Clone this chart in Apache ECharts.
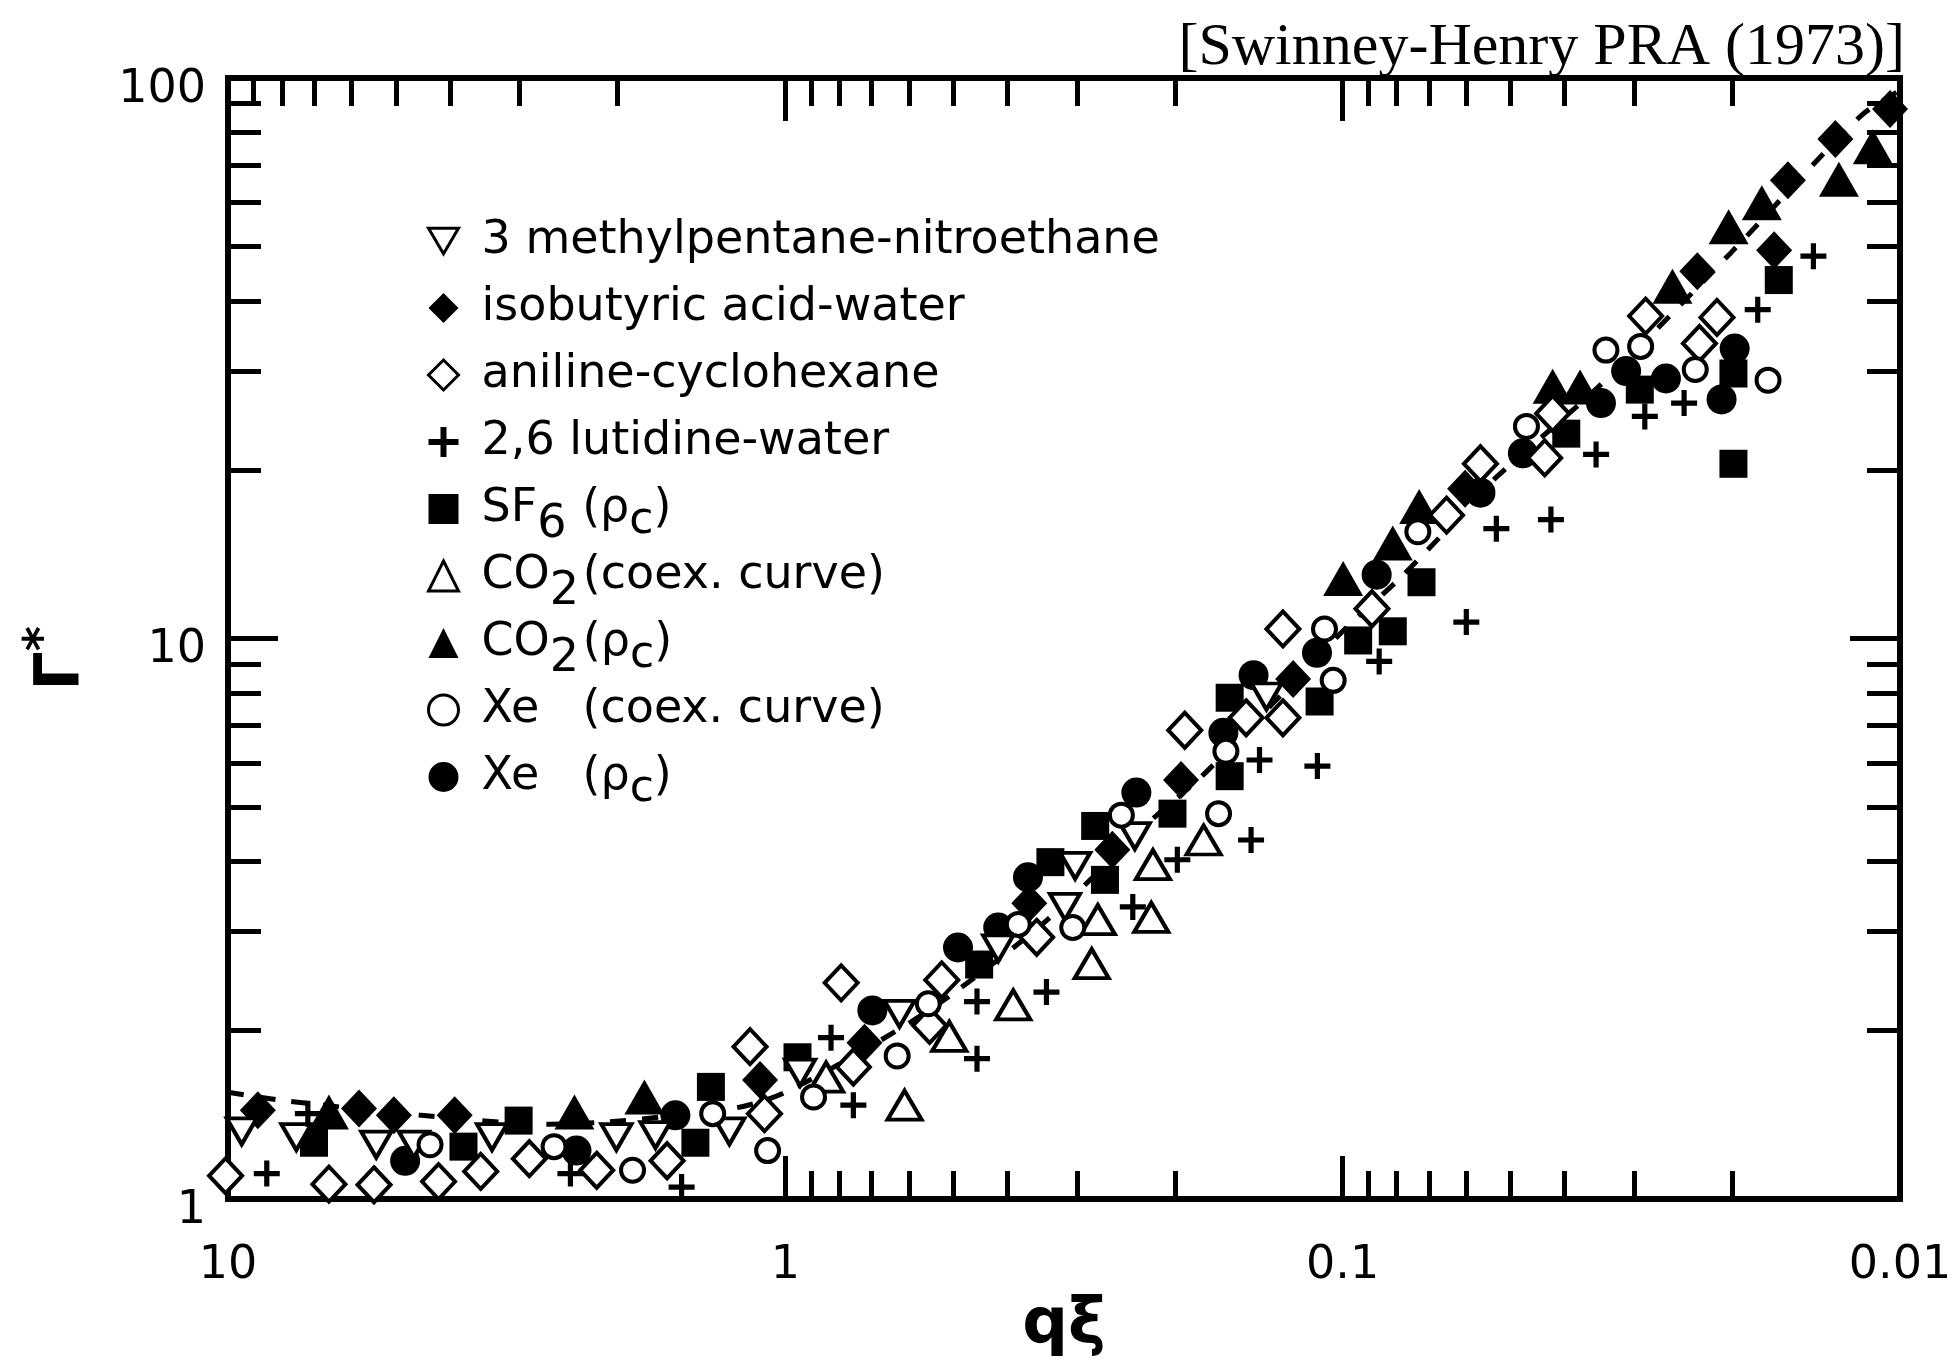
<!DOCTYPE html>
<html><head><meta charset="utf-8">
<script src="https://cdn.jsdelivr.net/npm/echarts@6/dist/echarts.min.js"></script>
<style>html,body{margin:0;padding:0;background:#fff}#c{width:1954px;height:1363px}</style>
</head><body><div id="c"></div>
<script>
// ---- tick labels ----
const xTickLabels = ['10', '1', '0.1', '0.01'];   // 10^1 .. 10^-2
const yTickLabels = ['1', '10', '100'];           // 10^0 .. 10^2
const xMinorTop = [9,8,7,6,5,4,3,2, 0.9,0.8,0.7,0.6,0.5,0.4,0.3,0.2, 0.09,0.08,0.07,0.06,0.05,0.04,0.03,0.02];
const xMinorBottom = [0.9,0.8,0.7,0.6,0.5,0.4,0.3,0.2, 0.09,0.08,0.07,0.06,0.05,0.04,0.03,0.02];
const xMajor = [1, 0.1];
const yMinor = [2,3,4,5,6,7,8,9, 20,30,40,50,60,70,80,90];
const yMajor = [10];

// ---- series names ----
const names = ['3 methylpentane-nitroethane', 'isobutyric acid-water', 'aniline-cyclohexane',
  '2,6 lutidine-water', 'SF6 (ρc)', 'CO2 (coex. curve)', 'CO2 (ρc)', 'Xe (coex. curve)', 'Xe (ρc)'];

// ---- data (qξ , Γ*) ----
const mpneX = [9.45, 7.54, 5.42, 4.64, 3.36, 2.01, 1.71, 1.26, 0.941, 0.624, 0.415, 0.302, 0.315, 0.236, 0.137];
const mpneY = [1.32, 1.29, 1.25, 1.25, 1.29, 1.29, 1.30, 1.32, 1.68, 2.14, 2.80, 3.93, 3.32, 4.44, 7.88];

const ibaX = [8.84, 5.82, 5.04, 3.92, 1.11, 0.721, 0.365, 0.259, 0.195, 0.1227, 0.0603, 0.0231, 0.01682, 0.01589, 0.01306, 0.01042];
const ibaY = [1.44, 1.45, 1.41, 1.41, 1.63, 1.90, 3.37, 4.20, 5.59, 8.47, 18.5, 45.2, 49.3, 65.7, 77.8, 88.0];

const anilX = [10.1, 6.59, 5.47, 4.19, 3.52, 2.88, 2.18, 1.63, 1.09, 1.157, 0.755, 0.794, 0.524, 0.551, 0.354, 0.192, 0.149, 0.128, 0.128, 0.0886, 0.0651, 0.0566, 0.0434, 0.0420, 0.0286, 0.0229, 0.0213];
const anilY = [1.10, 1.063, 1.06, 1.074, 1.12, 1.18, 1.125, 1.17, 1.42, 1.87, 1.72, 2.43, 2.46, 2.04, 2.93, 6.86, 7.22, 7.22, 10.4, 11.3, 16.6, 20.5, 21.0, 25.2, 37.6, 33.6, 37.4];

const lutX = [8.52, 7.19, 2.43, 1.535, 0.828, 0.755, 0.453, 0.453, 0.340, 0.238, 0.198, 0.146, 0.141, 0.111, 0.086, 0.060, 0.053, 0.0423, 0.0351, 0.0287, 0.0244, 0.0180, 0.0143];
const lutY = [1.11, 1.42, 1.11, 1.05, 1.94, 1.47, 2.25, 1.78, 2.34, 3.32, 4.03, 4.37, 6.07, 5.92, 9.10, 10.7, 15.7, 16.3, 21.3, 24.9, 26.3, 38.6, 48.1];

const sf6X = [7.01, 3.78, 3.01, 1.45, 1.36, 0.951, 0.449, 0.3345, 0.267, 0.278, 0.202, 0.1595, 0.1595, 0.110, 0.0938, 0.0813, 0.0722, 0.0397, 0.0293, 0.0199, 0.0199, 0.0165];
const sf6Y = [1.26, 1.24, 1.38, 1.26, 1.585, 1.79, 2.62, 3.99, 3.71, 4.63, 4.87, 5.68, 7.84, 7.72, 9.92, 10.3, 12.6, 23.2, 27.8, 29.7, 20.5, 43.6];

const co2cX = [0.845, 0.611, 0.508, 0.390, 0.282, 0.275, 0.2205, 0.219, 0.1776];
const co2cY = [1.65, 1.47, 1.95, 2.22, 2.63, 3.15, 3.18, 3.95, 4.37];

const co2rX = [6.59, 2.39, 1.79, 0.0998, 0.0813, 0.0729, 0.0420, 0.0375, 0.0256, 0.0203, 0.0177, 0.01287, 0.01119];
const co2rY = [1.43, 1.43, 1.52, 12.8, 14.8, 17.2, 28.2, 28.1, 42.5, 54.3, 59.9, 66.0, 75.4];

const xecX = [4.34, 2.60, 1.88, 1.35, 1.076, 0.890, 0.630, 0.554, 0.382, 0.305, 0.2495, 0.167, 0.162, 0.104, 0.1078, 0.0733, 0.0468, 0.0337, 0.0292, 0.0233, 0.01725];
const xecY = [1.25, 1.24, 1.125, 1.42, 1.22, 1.52, 1.80, 2.23, 3.09, 3.05, 4.84, 4.87, 6.29, 8.42, 10.4, 15.5, 23.9, 32.7, 33.2, 30.2, 28.9];

const xerX = [4.81, 2.37, 1.575, 0.698, 0.490, 0.415, 0.367, 0.2345, 0.1637, 0.1445, 0.1112, 0.0869, 0.0566, 0.0475, 0.0344, 0.0310, 0.0263, 0.0198, 0.0209];
const xerY = [1.17, 1.22, 1.41, 2.17, 2.81, 3.05, 3.75, 5.31, 6.79, 8.60, 9.43, 13.0, 18.2, 21.4, 26.3, 30.0, 29.1, 32.9, 26.7];

// dashed theoretical curve
const curveX = [10, 8, 4.5, 2.65, 1.25, 1.0, 0.64, 0.49, 0.335, 0.22, 0.176, 0.1, 0.079, 0.06, 0.053, 0.034, 0.0201, 0.0118, 0.01];
const curveY = [1.55, 1.50, 1.41, 1.36, 1.45, 1.55, 1.98, 2.36, 3.18, 4.75, 5.77, 10.3, 12.8, 17.0, 19.4, 28.7, 48.8, 85.3, 95];

const zip = (a, b) => a.map((v, i) => [v, b[i]]);
const PLUS = 'path://M8,0h4v8h8v4h-8v8h-4v-8h-8v-4h8z';
const DOWN_TRI = 'path://M0,0L20,0L10,17Z';
const FONT = 'DejaVu Sans';

function sc(name, xs, ys, symbol, size, filled) {
  return {
    type: 'scatter', name, data: zip(xs, ys), symbol, symbolSize: size,
    symbolKeepAspect: false, clip: false, z: 3,
    xAxisIndex: 0, yAxisIndex: 0, emphasis: { disabled: true },
    itemStyle: filled ? { color: '#000', borderWidth: 0, opacity: 1 }
                      : { color: '#fff', borderColor: '#000', borderWidth: 4, opacity: 1 }
  };
}

const series = [
  { type: 'line', name: 'theory', data: zip(curveX, curveY), smooth: 0.3, symbol: 'none', z: 1,
    xAxisIndex: 0, yAxisIndex: 0, silent: true,
    lineStyle: { color: '#000', width: 5, type: [16, 16] } },
  sc(names[1], ibaX, ibaY, 'diamond', [36, 38], true),
  sc(names[4], sf6X, sf6Y, 'rect', 28, true),
  sc(names[6], co2rX, co2rY, 'triangle', [40, 35], true),
  sc(names[8], xerX, xerY, 'circle', 30, true),
  sc(names[0], mpneX, mpneY, DOWN_TRI, [30, 26], false),
  sc(names[2], anilX, anilY, 'diamond', [33, 35], false),
  sc(names[5], co2cX, co2cY, 'triangle', [34, 29], false),
  sc(names[7], xecX, xecY, 'circle', 23, false),
  sc(names[3], lutX, lutY, PLUS, 26, true)
];

const filledSet = new Set([names[1], names[3], names[4], names[6], names[8]]);
const richName = {
  'SF6 (ρc)': '{sp| }{m|SF}{sb|6}{m|(ρ}{c|c}{m|)}',
  'CO2 (coex. curve)': '{sp| }{m|CO}{sb2|2}{m|(coex. curve)}{z| }',
  'CO2 (ρc)': '{sp| }{m|CO}{sb2|2}{m|(ρ}{c|c}{m|)}',
  'Xe (coex. curve)': '{sp| }{xe|Xe}{m|(coex. curve)}{z| }',
  'Xe (ρc)': '{sp| }{xe|Xe}{m|(ρ}{c|c}{m|)}'
};
const FS = 46, LH = 52;
const base = { fontFamily: FONT, fontSize: FS, lineHeight: LH, color: '#000' };
const ext = o => Object.assign({}, base, o);

function xAx(pos, ticks, len, main) {
  const ax = {
    type: 'log', logBase: 10, min: 0.01, max: 10, inverse: true, position: pos, gridIndex: 0,
    axisLine: { show: false }, splitLine: { show: false }, minorTick: { show: false },
    axisTick: { show: true, inside: true, length: len, customValues: ticks, lineStyle: { color: '#000', width: 5 } },
    axisLabel: { show: false }
  };
  if (main) {
    ax.axisLabel = { show: true, fontFamily: FONT, fontSize: 46, color: '#000', margin: 44,
      formatter: v => xTickLabels[1 - Math.round(Math.log10(v))] };
    ax.name = '{q|qξ}';
    ax.nameLocation = 'middle';
    ax.nameGap = 90;
    ax.nameTextStyle = { rich: { q: { fontFamily: FONT, fontWeight: 'bold', fontSize: 64, lineHeight: 70, color: '#000' } } };
  }
  return ax;
}
function yAx(pos, ticks, len, main) {
  const ax = {
    type: 'log', logBase: 10, min: 1, max: 100, position: pos, gridIndex: 0,
    axisLine: { show: false }, splitLine: { show: false }, minorTick: { show: false },
    axisTick: { show: true, inside: true, length: len, customValues: ticks, lineStyle: { color: '#000', width: 5 } },
    axisLabel: { show: false }
  };
  if (main) {
    ax.axisLabel = { show: true, fontFamily: FONT, fontSize: 46, lineHeight: 24, color: '#000', margin: 22,
      verticalAlign: 'top',
      formatter: v => yTickLabels[Math.round(Math.log10(v))] };
    ax.name = '{g|Γ}{s|*}';
    ax.nameLocation = 'middle';
    ax.nameGap = 132;
    ax.nameTextStyle = { padding: [0, 40, 0, 0], rich: {
      g: { fontFamily: FONT, fontWeight: 'bold', fontSize: 62, lineHeight: 66, color: '#000' },
      s: { fontFamily: FONT, fontWeight: 'bold', fontSize: 48, lineHeight: 66, height: 30, verticalAlign: 'top', color: '#000' } } };
  }
  return ax;
}

const option = {
  animation: false,
  backgroundColor: '#fff',
  title: { text: '[Swinney-Henry PRA (1973)]', right: 44, top: 13,
    textStyle: { fontFamily: 'Liberation Serif', fontSize: 60, fontWeight: 'normal', color: '#000' } },
  grid: { left: 228, right: 54, top: 78, bottom: 164, show: true, borderColor: '#000', borderWidth: 6,
    backgroundColor: 'transparent', containLabel: false, outerBoundsMode: 'none' },
  legend: {
    show: true, orient: 'vertical', left: 422, top: 210, itemWidth: 30, itemHeight: 30, itemGap: 2,
    selectedMode: false,
    data: names.map(n => ({ name: n, itemStyle: filledSet.has(n) ? { color: '#000', borderWidth: 0 }
                                                                  : { color: '#fff', borderColor: '#000', borderWidth: 3 } })),
    formatter: n => richName[n] || ('{sp| }{m|' + n + '}{z| }'),
    textStyle: ext({ rich: {
      sp: ext({ width: 18 }),
      m: base,
      z: ext({ height: 20, verticalAlign: 'bottom' }),
      sb: ext({ height: 20, verticalAlign: 'bottom', width: 45 }),
      sb2: ext({ height: 20, verticalAlign: 'bottom', width: 33 }),
      xe: ext({ width: 101 }),
      c: ext({ fontSize: 44, height: 26, verticalAlign: 'bottom' })
    } })
  },
  xAxis: [
    xAx('bottom', xMajor, 43, true),
    xAx('bottom', xMinorBottom, 28, false),
    xAx('top', xMajor, 43, false),
    xAx('top', xMinorTop, 28, false)
  ],
  yAxis: [
    yAx('left', yMajor, 50, true),
    yAx('left', yMinor, 33, false),
    yAx('right', yMajor, 50, false),
    yAx('right', yMinor, 33, false)
  ],
  series
};
const chart = echarts.init(document.getElementById('c'));
chart.setOption(option);
</script>
</body></html>
